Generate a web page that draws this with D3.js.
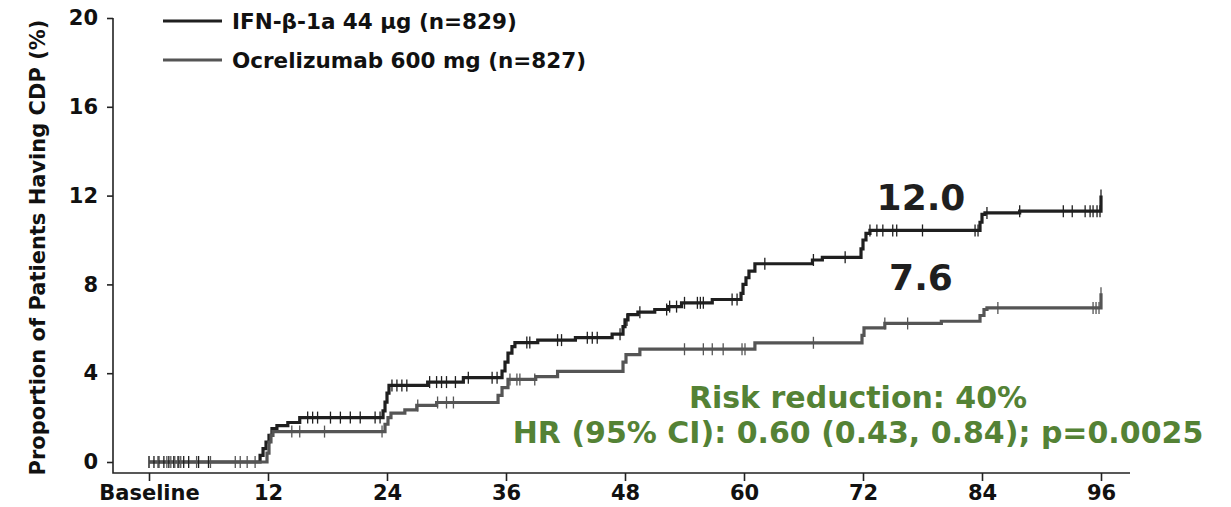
<!DOCTYPE html>
<html>
<head>
<meta charset="utf-8">
<script src="https://cdn.jsdelivr.net/npm/d3@7"></script>
<style>
  html, body { margin: 0; padding: 0; background: #ffffff; }
  svg { display: block; }
  text { font-family: "DejaVu Sans", Verdana, sans-serif; font-weight: bold; }
</style>
</head>
<body>
<svg id="chart" width="1231" height="507"></svg>
<script>
// Time axis (weeks) and y ticks (%)
const xTicks = [0, 12, 24, 36, 48, 60, 72, 84, 96];
const xTickLabels = ["Baseline", "12", "24", "36", "48", "60", "72", "84", "96"];
const yTicks = [0, 4, 8, 12, 16, 20];

// Kaplan-Meier step points: [week, cumulative % with CDP]
const ifnSteps = [
  [0, 0], [11.2, 0.3], [11.5, 0.6], [11.8, 0.9], [12.1, 1.2], [12.4, 1.5],
  [12.9, 1.64], [14.0, 1.78], [15.2, 2.0],
  [23.6, 2.3], [23.8, 2.7], [24.0, 3.1], [24.2, 3.45],
  [28.1, 3.6], [31.7, 3.8],
  [35.6, 4.1], [35.9, 4.5], [36.2, 4.9], [36.6, 5.2], [36.9, 5.38],
  [39.2, 5.49], [43.0, 5.6], [46.7, 5.76],
  [47.8, 6.1], [48.0, 6.4], [48.3, 6.64], [49.3, 6.75], [51.0, 6.87],
  [52.4, 7.0], [53.7, 7.17], [56.8, 7.32],
  [59.7, 7.6], [59.9, 8.0], [60.2, 8.3], [60.5, 8.6], [61.1, 8.93],
  [66.9, 9.1], [67.9, 9.22],
  [71.8, 9.6], [72.0, 10.0], [72.3, 10.3], [72.7, 10.43],
  [83.8, 10.8], [84.0, 11.15], [84.3, 11.22], [87.8, 11.3],
  [96, 12.0]
];
const ocrSteps = [
  [0, 0], [11.9, 0.4], [12.1, 0.9], [12.3, 1.2], [12.5, 1.37],
  [23.8, 1.7], [24.1, 2.0], [24.4, 2.2], [25.8, 2.35], [27.0, 2.55], [29.0, 2.68],
  [35.2, 3.0], [35.6, 3.35], [36.2, 3.72], [39.0, 3.85], [41.2, 4.08],
  [47.8, 4.5], [48.1, 4.84], [49.5, 5.08],
  [61.1, 5.37],
  [71.9, 5.7], [72.1, 6.04], [74.2, 6.24], [79.9, 6.34],
  [83.8, 6.6], [84.2, 6.87], [84.5, 6.94],
  [96, 7.6]
];

// Censoring times (weeks)
const ifnCensored = [
  0, 0.5, 1, 1.5, 2, 2.5, 3, 3.5, 4, 5, 6,
  16, 16.5, 17, 18.3, 19.3, 20.3, 21.3, 22.8, 23.3,
  24.5, 25, 25.5, 26, 28.3, 29, 29.5, 30, 30.9, 32.2, 34.6, 35.1,
  38.1, 38.4, 41.2, 41.6, 44.2, 44.7, 45.2, 47.5,
  48.2, 49.5, 52.2, 52.5, 53.2, 54, 55.3, 55.6, 55.9, 58.8, 59.3,
  62.1, 67, 70.2,
  72.7, 73.4, 74, 75, 75.4, 78, 83.3, 83.6,
  84.5, 87.8, 92.2, 93.1, 94.4, 94.9, 95.2, 95.6, 95.9, 96
];
const ocrCensored = [
  0, 0.9, 1.8, 2.2, 2.6, 2.9, 3.2, 4.8, 6.2, 8.7, 9.2, 9.9, 10.7,
  14.4, 15.2, 17.7, 23.5,
  27.1, 29.1, 30, 30.7,
  36.4, 37.1, 37.4, 38.9,
  54, 55.9, 56.8, 57.9, 59.8, 60.1, 67,
  74.2, 76.5, 85.6, 95.2, 95.5, 95.8, 96
];

const seriesNames = ["IFN-\u03b2-1a 44 \u00b5g (n=829)", "Ocrelizumab 600 mg (n=827)"];
const endLabels = ["12.0", "7.6"];
const endValues = [12.0, 7.6];
const statLines = ["Risk reduction: 40%", "HR (95% CI): 0.60 (0.43, 0.84); p=0.0025"];
const yTitle = "Proportion of Patients Having CDP (%)";

const colors = ["#1f1f1f", "#555555"];
const green = "#548235";

const svg = d3.select("#chart");

const x = d3.scaleLinear().domain([0, 96]).range([149, 1101]);
const y = d3.scaleLinear().domain([0, 20]).range([462, 18]);

const axisLeftX = 113;
const axisBottomY = 473;

// axis lines (L-shaped frame)
svg.append("path")
  .attr("d", `M${axisLeftX},${y(20)}V${axisBottomY}H1130`)
  .attr("fill", "none").attr("stroke", "#222").attr("stroke-width", 1.6);

// y axis ticks and labels
const yAxis = d3.axisLeft(y).tickValues(yTicks).tickSize(6).tickPadding(9).tickFormat(d3.format("d"));
const gy = svg.append("g").attr("transform", `translate(${axisLeftX},0)`).call(yAxis);
gy.select(".domain").remove();
gy.selectAll(".tick line").attr("stroke", "#222").attr("stroke-width", 1.6);
gy.selectAll(".tick text").attr("font-size", 21).attr("fill", "#111")
  .style("font-family", "'DejaVu Sans', sans-serif").style("font-weight", "bold");

// x axis ticks and labels
const xAxis = d3.axisBottom(x).tickValues(xTicks).tickSize(8).tickPadding(4)
  .tickFormat((d, i) => xTickLabels[i]);
const gx = svg.append("g").attr("transform", `translate(0,${axisBottomY})`).call(xAxis);
gx.select(".domain").remove();
gx.selectAll(".tick line").attr("stroke", "#222").attr("stroke-width", 1.6);
gx.selectAll(".tick text").attr("font-size", 21).attr("fill", "#111")
  .style("font-family", "'DejaVu Sans', sans-serif").style("font-weight", "bold");

// y axis title
svg.append("text")
  .attr("transform", `translate(45,${(y(20) + axisBottomY) / 2 + 2}) rotate(-90)`)
  .attr("text-anchor", "middle")
  .attr("font-size", 21)
  .attr("fill", "#111")
  .text(yTitle);

// step curves
const line = d3.line()
  .x(d => x(d[0]))
  .y(d => y(d[1]))
  .curve(d3.curveStepAfter);

const allSteps = [ifnSteps, ocrSteps];
const allCensored = [ifnCensored, ocrCensored];

function valueAt(steps, t) {
  let v = 0;
  for (const [tt, vv] of steps) { if (tt <= t) v = vv; else break; }
  return v;
}

allSteps.forEach((steps, i) => {
  svg.append("path")
    .datum(steps)
    .attr("d", line)
    .attr("fill", "none")
    .attr("stroke", colors[i])
    .attr("stroke-width", 3.2)
    .attr("stroke-linejoin", "miter");
});

allCensored.forEach((times, i) => {
  svg.append("g").selectAll("line")
    .data(times)
    .join("line")
    .attr("x1", d => x(d)).attr("x2", d => x(d))
    .attr("y1", d => y(valueAt(allSteps[i], d)) - 6)
    .attr("y2", d => y(valueAt(allSteps[i], d)) + 6)
    .attr("stroke", colors[i])
    .attr("stroke-width", 1.3);
});

// legend
const legend = svg.append("g");
seriesNames.forEach((name, i) => {
  const ly = 21 + i * 39;
  legend.append("line")
    .attr("x1", 163).attr("x2", 222).attr("y1", ly).attr("y2", ly)
    .attr("stroke", colors[i]).attr("stroke-width", 3.2);
  legend.append("text")
    .attr("x", 232).attr("y", ly + 8)
    .attr("font-size", 21.5)
    .attr("fill", "#111")
    .text(name);
});

// end-of-follow-up values
const endLabelY = [210, 290];
endLabels.forEach((lab, i) => {
  svg.append("text")
    .attr("x", 921)
    .attr("y", endLabelY[i])
    .attr("text-anchor", "middle")
    .attr("font-size", 36)
    .attr("fill", "#1f1f1f")
    .text(lab);
});

// statistics
statLines.forEach((s, i) => {
  svg.append("text")
    .attr("x", 858)
    .attr("y", 408 + i * 35)
    .attr("text-anchor", "middle")
    .attr("font-size", 30)
    .attr("fill", green)
    .text(s);
});
</script>
</body>
</html>
